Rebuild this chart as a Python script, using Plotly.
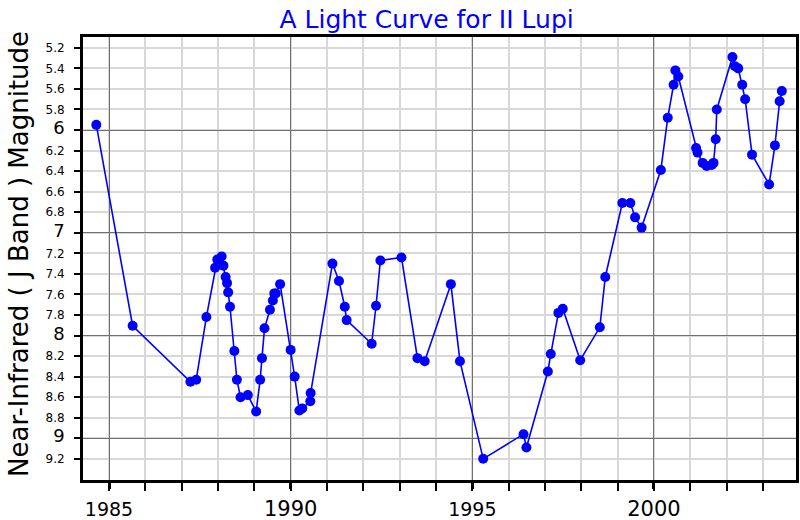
import plotly.graph_objects as go

# ---- data ----
years = [1984.65, 1985.65, 1987.24, 1987.40, 1987.68, 1987.92, 1987.98, 1988.10, 1988.15,
         1988.21, 1988.25, 1988.28, 1988.33, 1988.45, 1988.52, 1988.62, 1988.82, 1989.05,
         1989.16, 1989.21, 1989.28, 1989.43, 1989.51, 1989.55, 1989.59, 1989.71, 1990.00,
         1990.11, 1990.24, 1990.32, 1990.54, 1990.55, 1991.15, 1991.33, 1991.49, 1991.54,
         1992.23, 1992.35, 1992.47, 1993.05, 1993.49, 1993.69, 1994.41, 1994.66, 1995.30,
         1996.41, 1996.49, 1997.08, 1997.16, 1997.37, 1997.49, 1997.97, 1998.51, 1998.66,
         1999.13, 1999.35, 1999.48, 1999.66, 2000.19, 2000.38, 2000.54, 2000.59, 2000.67,
         2001.16, 2001.20, 2001.34, 2001.45, 2001.59, 2001.64, 2001.70, 2001.73, 2002.16,
         2002.23, 2002.32, 2002.43, 2002.51, 2002.70, 2003.17, 2003.33, 2003.46, 2003.52]
magnitudes = [5.95, 7.905, 8.45, 8.43, 7.82, 7.34, 7.26, 7.23, 7.32,
              7.43, 7.49, 7.58, 7.72, 8.15, 8.43, 8.60, 8.58, 8.74,
              8.43, 8.22, 7.93, 7.75, 7.66, 7.59, 7.59, 7.50, 8.14,
              8.40, 8.73, 8.71, 8.64, 8.56, 7.30, 7.47, 7.72, 7.85,
              8.08, 7.71, 7.27, 7.24, 8.22, 8.25, 7.50, 8.25, 9.20,
              8.96, 9.09, 8.35, 8.18, 7.78, 7.74, 8.24, 7.92, 7.43,
              6.71, 6.71, 6.85, 6.95, 6.39, 5.88, 5.56, 5.42, 5.48,
              6.175, 6.22, 6.32, 6.35, 6.34, 6.32, 6.09, 5.80, 5.29,
              5.38, 5.40, 5.56, 5.70, 6.24, 6.53, 6.15, 5.72, 5.62]

year_ticks = list(range(1985, 2004))
major_years = [1985, 1990, 1995, 2000]
small_year_labels = {1985: "1985", 1995: "1995"}
big_year_labels = {1990: "1990", 2000: "2000"}
mag_ticks = [round(5.2 + 0.2 * i, 1) for i in range(21)]
major_mags = [6, 7, 8, 9]

title_text = "A Light Curve for II Lupi"
ytitle_text = "Near-Infrared ( J Band ) Magnitude"

FONT = "DejaVu Sans"
xr = [1984.284, 2003.91]
yr = [9.406, 5.095]


def mag_label(v):
    if abs(v - round(v)) < 1e-6:
        return "<span style='font-size:18px'>%d</span>" % round(v)
    return "%.1f" % v


fig = go.Figure()
fig.add_trace(go.Scatter(
    x=years, y=magnitudes, mode="lines+markers",
    line=dict(color="#0000ff", width=1.6),
    marker=dict(color="#0000ff", size=10),
    showlegend=False, hoverinfo="skip"))
# empty trace to create overlay axes
fig.add_trace(go.Scatter(x=[], y=[], xaxis="x2", yaxis="y2", showlegend=False))

fig.update_layout(
    width=800, height=520,
    margin=dict(l=83, r=4, t=37, b=40, autoexpand=False),
    paper_bgcolor="white", plot_bgcolor="white",
    font=dict(family=FONT, color="black"),
    title=dict(text=title_text, x=426.6 / 800, xanchor="center", xref="container",
               y=1 - 19 / 520, yanchor="middle", automargin=False,
               font=dict(family=FONT, size=25, color="#0000ff")),
    xaxis=dict(
        range=xr, tickmode="array", tickvals=year_ticks, automargin=False,
        ticktext=[small_year_labels.get(y, "") for y in year_ticks],
        tickfont=dict(size=19, family=FONT, color="black"),
        ticks="outside", ticklen=8, tickwidth=2, tickcolor="black",
        showgrid=True, gridcolor="#d8d8d8", gridwidth=1.5,
        showline=True, linecolor="black", linewidth=3, mirror=True,
        zeroline=False, ticklabelstandoff=2),
    xaxis2=dict(
        range=xr, overlaying="x", anchor="y", side="bottom", automargin=False,
        tickmode="array", tickvals=major_years,
        ticktext=[big_year_labels.get(y, "") for y in major_years],
        tickfont=dict(size=21, family=FONT, color="black"),
        ticks="outside", ticklen=8, tickwidth=3, tickcolor="black",
        showgrid=True, gridcolor="#707070", gridwidth=1,
        showline=False, zeroline=False, ticklabelstandoff=2),
    yaxis=dict(
        range=yr, tickmode="array", tickvals=mag_ticks, automargin=False,
        ticktext=[mag_label(v) for v in mag_ticks],
        tickfont=dict(size=12, family=FONT, color="black"),
        ticks="outside", ticklen=6, tickwidth=2, tickcolor="black",
        showgrid=True, gridcolor="#d8d8d8", gridwidth=1.5,
        showline=True, linecolor="black", linewidth=3, mirror=True,
        zeroline=False, ticklabelstandoff=7),
    yaxis2=dict(
        range=yr, overlaying="y", anchor="x", side="left", automargin=False,
        tickmode="array", tickvals=major_mags, showticklabels=False,
        ticks="", showgrid=True, gridcolor="#707070", gridwidth=1,
        showline=False, zeroline=False),
    annotations=[dict(
        text=ytitle_text, textangle=-90, xref="paper", yref="paper",
        x=(19 - 83) / 713, y=(480 - 254) / 443, xanchor="center", yanchor="middle",
        showarrow=False, font=dict(family=FONT, size=26, color="black"))],
)

fig.write_html("out.html", config={"displayModeBar": False},
               post_script="document.body.style.margin='0';document.body.style.padding='0';")
